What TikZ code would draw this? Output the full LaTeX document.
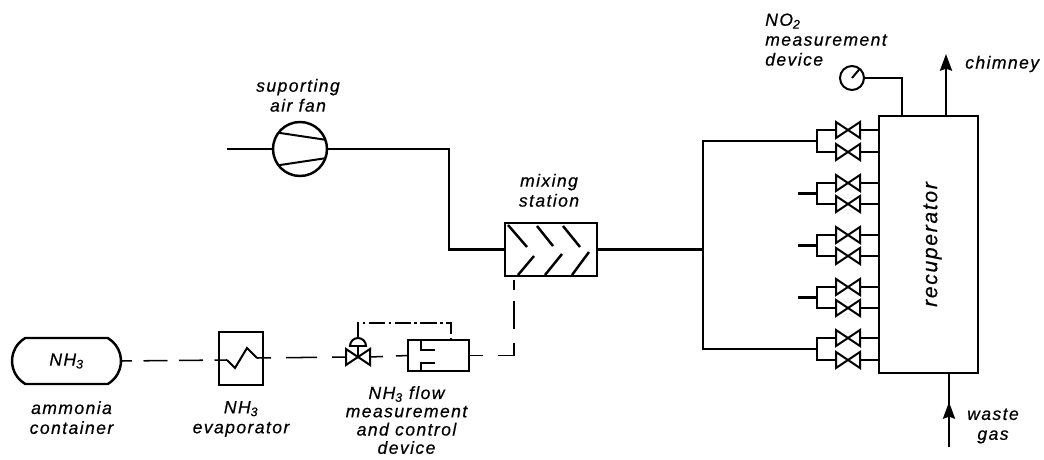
\documentclass[tikz,border=0pt]{standalone}
\usepackage{xcolor}
\usepackage{fontspec}
\setmainfont[LetterSpace=8,FakeBold=0.5]{Liberation Sans}
\usepackage{tikz}
\usetikzlibrary{arrows.meta, positioning, calc, shapes.misc, shapes.geometric}
\newcommand{\nhthree}{NH\textsubscript{3}}
\newcommand{\notwo}{NO\textsubscript{2}}

\begin{document}
\begin{tikzpicture}[
    pipe/.style={line width=2.1pt, line join=miter},
    thinpipe/.style={line width=1.7pt},
    gasline/.style={line width=1.3pt},
    signal/.style={line width=0.9pt, dash pattern=on 14pt off 3pt on 2pt off 3pt},
    unit/.style={rectangle, draw, line width=2.1pt, inner sep=0pt, outer sep=0pt},
    roundunit/.style={circle, draw, line width=2.1pt, inner sep=0pt, outer sep=0pt},
    caption/.style={font=\fontsize{15}{17}\selectfont\itshape, align=center, inner sep=0pt},
    valve/.style={minimum width=0.72cm, minimum height=0.48cm, inner sep=0pt, outer sep=0pt,
                  append after command={\pgfextra{\draw[thinpipe]
                    (\tikzlastnode.north west) -- (\tikzlastnode.south east)
                    -- (\tikzlastnode.north east) -- (\tikzlastnode.south west) -- cycle;}}},
    arrow/.style={pipe, -{Stealth[length=0.5cm, width=0.36cm, inset=0.06cm]}}
]
\useasboundingbox (0,0) rectangle (31.32,-13.8);

% main units
\node[unit, rounded rectangle, rounded rectangle arc length=120, minimum width=3.27cm, minimum height=1.38cm] (container) at (1.995,-10.83) {};
\node[caption] (nhthreetext) at (container) {\nhthree};
\node[unit, minimum width=1.32cm, minimum height=1.59cm, right=2.94cm of container, yshift=0.075cm] (evaporator) {};
\node[valve, right=2.49cm of evaporator, yshift=0.045cm] (flowvalve) {};
\node[unit, semicircle, minimum width=0.48cm, line width=1.7pt, above=0.09cm of flowvalve] (actuator) {};
\node[unit, minimum width=1.83cm, minimum height=0.93cm, right=1.14cm of flowvalve, yshift=0.045cm] (flowbox) {};
\node[unit, minimum width=2.76cm, minimum height=1.59cm] (mixer) at (16.53,-7.485) {};
\node[roundunit, minimum size=1.62cm] (fan) at (9.0,-4.47) {};
\node[unit, minimum width=2.97cm, minimum height=7.71cm] (recuperator) at (27.855,-7.335) {};
\node[roundunit, minimum size=0.72cm, line width=1.7pt] (gauge) at (25.56,-2.34) {};

% valves on the recuperator
\node[valve, left=0.57cm of recuperator.north west, yshift=-0.42cm] (valvea) {};
\node[valve, below=0.18cm of valvea] (valveb) {};
\node[valve, below=0.45cm of valveb] (valvec) {};
\node[valve, below=0.15cm of valvec] (valved) {};
\node[valve, below=0.45cm of valved] (valvee) {};
\node[valve, below=0.15cm of valvee] (valvef) {};
\node[valve, below=0.45cm of valvef] (valveg) {};
\node[valve, below=0.15cm of valveg] (valveh) {};
\node[valve, below=0.42cm of valveh] (valvei) {};
\node[valve, below=0.18cm of valvei] (valvej) {};

% junctions and free ends
\coordinate (joina) at ($(valvea.west)!0.5!(valveb.west)+(-0.57,0)$);
\coordinate (joinb) at ($(valvec.west)!0.5!(valved.west)+(-0.57,0)$);
\coordinate (joinc) at ($(valvee.west)!0.5!(valvef.west)+(-0.57,0)$);
\coordinate (joind) at ($(valveg.west)!0.5!(valveh.west)+(-0.57,0)$);
\coordinate (joine) at ($(valvei.west)!0.5!(valvej.west)+(-0.57,0)$);
\coordinate[left=0.57cm of joinb] (stubb);
\coordinate[left=0.57cm of joinc] (stubc);
\coordinate[left=0.57cm of joind] (stubd);
\coordinate[right=3.18cm of mixer.east] (trunk);
\coordinate[left=1.38cm of fan.west] (airin);
\coordinate[left=1.68cm of mixer.west] (fanbend);
\coordinate[right=0.27cm of mixer.south west] (mixerin);
\coordinate[right=0.375cm of flowbox.north] (sensor);
\coordinate[right=0.69cm of recuperator.north west] (tap);
\coordinate[right=0.525cm of recuperator.north] (flueout);
\coordinate[above=1.86cm of flueout] (chimneyend);
\coordinate[right=0.615cm of recuperator.south] (fluein);
\coordinate[below=2.22cm of fluein] (wastestart);
\coordinate[below=0.87cm of fluein] (wastetip);
\coordinate (zigin) at ($(evaporator.west)+(0.24,-0.045)$);
\coordinate (zigout) at ($(evaporator.west)+(1.14,0.015)$);

% captions
\node[caption, above=0.3cm of fan, xshift=-0.06cm] (fantext) {suporting\\air fan};
\node[caption, above=0.48cm of mixer, xshift=-0.06cm] (mixertext) {mixing\\station};
\node[caption, below=0.51cm of container, xshift=0.15cm] (containertext) {ammonia\\container};
\node[caption, below=0.48cm of evaporator] (evaporatortext) {\nhthree\\evaporator};
\node[caption, font=\fontsize{15}{15.6}\selectfont\itshape, below=0.45cm of flowbox, xshift=-0.96cm] (flowtext) {\nhthree{} flow\\measurement\\and control\\device};
\node[caption, align=left, above=0cm of gauge, xshift=-0.78cm] (gaugetext) {\notwo\\measurement\\device};
\node[caption, anchor=west] (chimneytext) at (28.95,-1.92) {chimney};
\node[caption, right=0.54cm of wastetip, yshift=-0.72cm] (wastetext) {waste\\gas};
\node[caption, font=\fontsize{18}{20}\selectfont\itshape, rotate=90] (recuperatortext) at ($(recuperator.center)+(0.12,0)$) {recuperator};

% air and flue gas side
\draw[pipe] (airin) -- (fan);
\draw[pipe] (fan.east) -| (fanbend) -- (mixer.west);
\draw[pipe] (mixer.east) -- (trunk);
\draw[pipe] (joina) -| (trunk) |- (joine);
\draw[pipe] (stubb) -- (joinb);
\draw[pipe] (stubc) -- (joinc);
\draw[pipe] (stubd) -- (joind);
\draw[arrow] (flueout) -- (chimneyend);
\draw[pipe] (wastestart) -- (fluein);
\draw[arrow] (wastestart) -- (wastetip);
\draw[pipe] (gauge.east) -| (tap);

% valve brackets
\draw[thinpipe] (valvea.west) -| (joina) |- (valveb.west);
\draw[thinpipe] (valvec.west) -| (joinb) |- (valved.west);
\draw[thinpipe] (valvee.west) -| (joinc) |- (valvef.west);
\draw[thinpipe] (valveg.west) -| (joind) |- (valveh.west);
\draw[thinpipe] (valvei.west) -| (joine) |- (valvej.west);
\draw[thinpipe] (valvea.east) -- (valvea.east -| recuperator.west);
\draw[thinpipe] (valveb.east) -- (valveb.east -| recuperator.west);
\draw[thinpipe] (valvec.east) -- (valvec.east -| recuperator.west);
\draw[thinpipe] (valved.east) -- (valved.east -| recuperator.west);
\draw[thinpipe] (valvee.east) -- (valvee.east -| recuperator.west);
\draw[thinpipe] (valvef.east) -- (valvef.east -| recuperator.west);
\draw[thinpipe] (valveg.east) -- (valveg.east -| recuperator.west);
\draw[thinpipe] (valveh.east) -- (valveh.east -| recuperator.west);
\draw[thinpipe] (valvei.east) -- (valvei.east -| recuperator.west);
\draw[thinpipe] (valvej.east) -- (valvej.east -| recuperator.west);

% ammonia side
\draw[gasline, dash pattern=on 0.72cm off 0.345cm, dash phase=0.39cm] (container.east) -- (zigin);
\draw[gasline, dash pattern=on 0.93cm off 0.45cm, dash phase=0.51cm] (zigout) -- (flowvalve.west);
\draw[gasline, dash pattern=on 0.39cm off 0.39cm] (flowvalve.east) -- (flowbox.west);
\draw[gasline, dash pattern=on 0.42cm off 0.45cm on 0.87cm off 0.42cm on 0.84cm off 0.33cm on 0.3cm] (flowbox.east) -| (mixerin);
\draw[signal] (actuator.north) -- ++(0,0.45) -| (sensor);
\draw[thinpipe] (flowvalve.center) -- (actuator.south);

% inner details
\draw[thinpipe] (zigin) -- ($(evaporator.west)+(0.48,-0.285)$) -- ($(evaporator.west)+(0.84,0.315)$) -- (zigout);
\draw[thinpipe] (fan.143) -- (fan.20);
\draw[thinpipe] (fan.217) -- (fan.340);
\draw[thinpipe] (gauge.center) -- (gauge.50);
\draw[pipe] ($(mixer.north west)+(0.09,-0.06)$) -- ($(mixer.north west)+(0.66,-0.72)$);
\draw[pipe] ($(mixer.north west)+(0.96,-0.09)$) -- ($(mixer.north west)+(1.44,-0.69)$);
\draw[pipe] ($(mixer.north west)+(1.74,-0.09)$) -- ($(mixer.north west)+(2.25,-0.72)$);
\draw[pipe] ($(mixer.north west)+(0.39,-1.56)$) -- ($(mixer.north west)+(0.87,-0.99)$);
\draw[pipe] ($(mixer.north west)+(1.2,-1.56)$) -- ($(mixer.north west)+(1.71,-0.93)$);
\draw[pipe] ($(mixer.north west)+(2.01,-1.56)$) -- ($(mixer.north west)+(2.52,-0.87)$);
\draw[thinpipe] ($(flowbox.north west)+(0.39,0)$) -- ($(flowbox.north west)+(0.39,-0.3)$) -- ($(flowbox.north west)+(0.81,-0.3)$);
\draw[thinpipe] ($(flowbox.north west)+(0.81,-0.69)$) -- ($(flowbox.north west)+(0.39,-0.69)$) -- ($(flowbox.north west)+(0.39,-0.93)$);
\end{tikzpicture}
\end{document}
